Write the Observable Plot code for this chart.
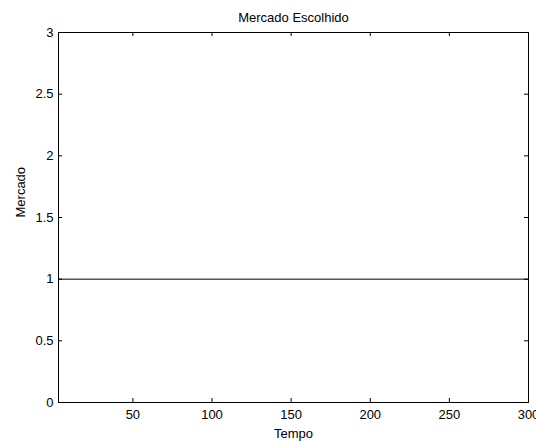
<!DOCTYPE html>
<html>
<head>
<meta charset="utf-8">
<script src="https://cdn.jsdelivr.net/npm/d3@7"></script>
<script src="https://cdn.jsdelivr.net/npm/@observablehq/plot@0.6"></script>
<style>
  html, body { margin: 0; padding: 0; background: #fff; }
  svg { font-family: "Liberation Sans", Arial, sans-serif; }
</style>
</head>
<body>
<div id="chart"></div>
<script>
// Data
const tempo = [3, 300];
const mercado = [1, 1];
const xTicks = [50, 100, 150, 200, 250, 300];
const yTicks = [0, 0.5, 1, 1.5, 2, 2.5, 3];
const xDomain = [3, 300];
const yDomain = [0, 3];
const title = "Mercado Escolhido";
const xLabel = "Tempo";
const yLabel = "Mercado";

const series = tempo.map((t, i) => ({t, m: mercado[i]}));
const W = 536, H = 442;
const mL = 58, mR = 8, mT = 32, mB = 40;
const innerW = W - mL - mR, innerH = H - mT - mB;
const tick = 4;

const chart = Plot.plot({
  width: W,
  height: H,
  marginLeft: mL,
  marginRight: mR,
  marginTop: mT,
  marginBottom: mB,
  style: {fontSize: "13px", fontFamily: "'Liberation Sans', Arial, sans-serif", color: "#000", background: "#fff"},
  x: {domain: xDomain},
  y: {domain: yDomain},
  marks: [
    Plot.axisX({ticks: xTicks, tickSize: 0, tickPadding: 7, label: null, tickFormat: d => String(d), fill: "#000"}),
    Plot.axisY({ticks: yTicks, tickSize: 0, tickPadding: 5, label: null, tickFormat: d => String(d), fill: "#000"}),
    // inward ticks: bottom & top
    Plot.ruleX(xTicks, {x: d => d, insetTop: innerH - tick, stroke: "#000"}),
    Plot.ruleX(xTicks, {x: d => d, insetBottom: innerH - tick, stroke: "#000"}),
    // inward ticks: left & right
    Plot.ruleY(yTicks, {y: d => d, insetRight: innerW - tick, stroke: "#000"}),
    Plot.ruleY(yTicks, {y: d => d, insetLeft: innerW - tick, stroke: "#000"}),
    Plot.frame({stroke: "#000"}),
    Plot.lineY(series, {x: "t", y: "m", stroke: "#000", strokeWidth: 1}),
    Plot.text([title], {text: d => d, frameAnchor: "top", lineAnchor: "bottom", dy: -11, fill: "#000", fontSize: 13}),
    Plot.text([xLabel], {text: d => d, frameAnchor: "bottom", lineAnchor: "bottom", dy: 35, fill: "#000", fontSize: 13}),
    Plot.text([yLabel], {text: d => d, frameAnchor: "left", rotate: -90, lineAnchor: "bottom", dx: -34, fill: "#000", fontSize: 13})
  ]
});
document.getElementById("chart").appendChild(chart);
</script>
</body>
</html>
